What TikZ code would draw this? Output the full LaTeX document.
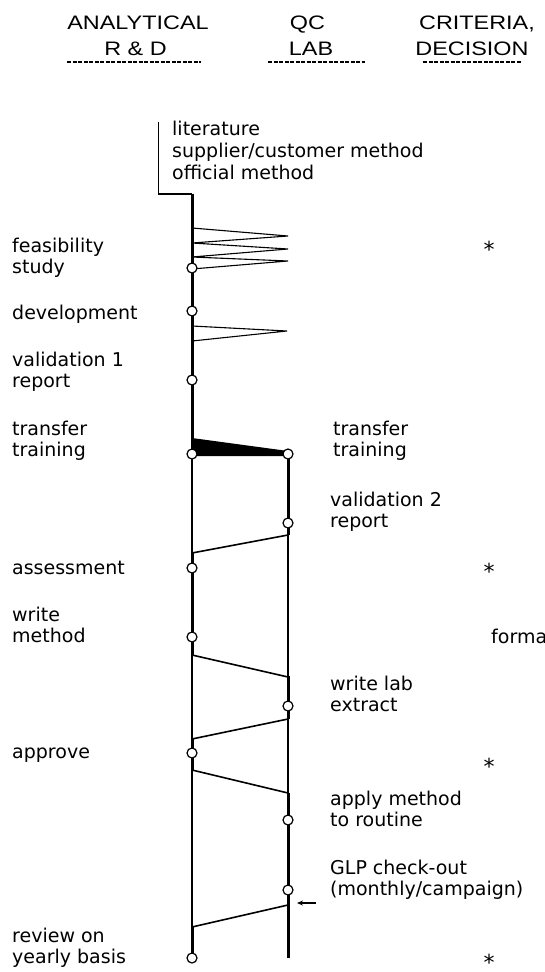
\documentclass[tikz,border=0pt]{standalone}
\usepackage{fontspec}
\newfontfamily\lblfont{DejaVu Sans}
\newfontfamily\hdrfont[FakeStretch=1.2]{Liberation Sans}
\usetikzlibrary{arrows.meta}
\tikzset{
  lbl/.style={font=\lblfont\fontsize{19}{22}\selectfont, anchor=base west, inner sep=0pt},
  hdr/.style={font=\hdrfont\fontsize{19.5}{24}\selectfont, anchor=base, inner sep=0pt},
  stepdot/.style={circle, draw, fill=white, line width=1.2pt, minimum size=10pt, inner sep=0pt},
  lanethick/.style={line width=3pt},
  lanethin/.style={line width=1.3pt},
  handoff/.style={line width=1.6pt},
  spike/.style={line width=1.1pt, line join=miter},
  underl/.style={line width=1.6pt, dash pattern=on 4pt off 1.5pt},
  star/.style={font=\lblfont\fontsize{22}{22}\selectfont, anchor=base, inner sep=0pt, text depth=0pt}
}
\begin{document}
\begin{tikzpicture}[x=1pt,y=-1pt]
\useasboundingbox (0,0) rectangle (544,972);
\clip (0,0) rectangle (544,972);

% ---------- headers
\node[hdr] (h1a) at (138,29.5) {ANALYTICAL};
\node[hdr] (h1b) at (135.5,55) {R \& D};
\node[hdr] (h2a) at (307.5,29.5) {QC};
\node[hdr] (h2b) at (311,55) {LAB};
\node[hdr] (h3a) at (477,29.5) {CRITERIA,};
\node[hdr] (h3b) at (472,55) {DECISION};
\coordinate (u1a) at (67,62);  \coordinate (u1b) at (201,62);
\coordinate (u2a) at (268,62); \coordinate (u2b) at (365,62);
\coordinate (u3a) at (423,62); \coordinate (u3b) at (521,62);
\draw[underl] (u1a) -- (u1b);
\draw[underl] (u2a) -- (u2b);
\draw[underl] (u3a) -- (u3b);

% ---------- lane coordinates
\coordinate (srcTop) at (158.5,122);
\coordinate (srcBend) at (158.5,194);
\coordinate (Ltop) at (192,194);
\coordinate (Ltr) at (192,454);
\coordinate (Lbot) at (192,958);
\coordinate (Rtop) at (288,451);
\coordinate (Rbot) at (288,958);

% input line
\draw[lanethin] (srcTop) -- (srcBend) -- (Ltop);

% left lane
\draw[lanethick] (Ltop) -- (Ltr);
\draw[lanethin] (Ltr) -- (Lbot);
\draw[lanethick] (192,553) -- (192,655);
\draw[lanethick] (192,739) -- (192,770);
\draw[lanethick] (192,927) -- (Lbot);

% right lane
\draw[lanethin] (Rtop) -- (Rbot);
\draw[lanethick] (Rtop) -- (288,535);
\draw[lanethick] (288,676) -- (288,719);
\draw[lanethick] (288,793) -- (Rbot);

% feasibility spikes
\draw[spike] (192,228) -- (288,236) -- (192,243) -- (288,249) -- (192,257) -- (288,261) -- (192,269);
% development spike
\draw[spike] (192,326) -- (287,331) -- (192,341);
% transfer wedge
\fill (192,438) -- (288,451) -- (288,456) -- (192,456) -- cycle;

% hand-off connectors
\coordinate (c1r) at (288,535); \coordinate (c1l) at (192,553);
\coordinate (c2l) at (192,655); \coordinate (c2r) at (288,677);
\coordinate (c3r) at (288,719); \coordinate (c3l) at (192,739);
\coordinate (c4l) at (192,770); \coordinate (c4r) at (288,793);
\coordinate (c5r) at (288,905); \coordinate (c5l) at (192,927);
\draw[handoff] (c1r) -- (c1l);
\draw[handoff] (c2l) -- (c2r);
\draw[handoff] (c3r) -- (c3l);
\draw[handoff] (c4l) -- (c4r);
\draw[handoff] (c5r) -- (c5l);

% GLP arrow
\coordinate (arrS) at (316,903);
\coordinate (arrE) at (297,903);
\draw[-{Stealth[length=6pt,width=5pt]}, line width=1.3pt] (arrS) -- (arrE);

% ---------- step circles
\node[stepdot] (feas) at (192,268) {};
\node[stepdot] (dev) at (192,311) {};
\node[stepdot] (val1) at (192,380) {};
\node[stepdot] (trL) at (192,454) {};
\node[stepdot] (trR) at (288,454) {};
\node[stepdot] (val2) at (288,523) {};
\node[stepdot] (assess) at (192,568) {};
\node[stepdot] (wmeth) at (192,637) {};
\node[stepdot] (wlab) at (288,706) {};
\node[stepdot] (appr) at (192,753) {};
\node[stepdot] (apply) at (288,820) {};
\node[stepdot] (glp) at (288,890) {};
\node[stepdot] (review) at (192,958) {};

% ---------- labels
\node[lbl] (t1) at (172,135) {literature};
\node[lbl] (t2) at (172,157) {supplier/customer method};
\node[lbl] (t3) at (172,179) {official method};

\node[lbl] (l1a) at (12,252) {feasibility};
\node[lbl] (l1b) at (12,273) {study};
\node[lbl] (l2) at (12,319) {development};
\node[lbl] (l3a) at (12,366) {validation 1};
\node[lbl] (l3b) at (12,387) {report};
\node[lbl] (l4a) at (12,435) {transfer};
\node[lbl] (l4b) at (12,456) {training};
\node[lbl] (l5) at (12,574) {assessment};
\node[lbl] (l6a) at (12,621) {write};
\node[lbl] (l6b) at (12,642) {method};
\node[lbl] (l7) at (12,758) {approve};
\node[lbl] (l8a) at (12,942) {review on};
\node[lbl] (l8b) at (12,963) {yearly basis};

\node[lbl] (r1a) at (333,435) {transfer};
\node[lbl] (r1b) at (333,456) {training};
\node[lbl] (r2a) at (330,506) {validation 2};
\node[lbl] (r2b) at (330,527) {report};
\node[lbl] (r3a) at (330,690) {write lab};
\node[lbl] (r3b) at (330,711) {extract};
\node[lbl] (r4a) at (330,805) {apply method};
\node[lbl] (r4b) at (330,826) {to routine};
\node[lbl] (r5a) at (330,874) {GLP check-out};
\node[lbl] (r5b) at (330,895) {(monthly/campaign)};

% criteria column
\node[star] (s1) at (489,257) {*};
\node[star] (s2) at (489,579) {*};
\node[lbl] (fm) at (491,643) {formal};
\node[star] (s3) at (489,774) {*};
\node[star] (s4) at (489,970) {*};
\end{tikzpicture}
\end{document}
